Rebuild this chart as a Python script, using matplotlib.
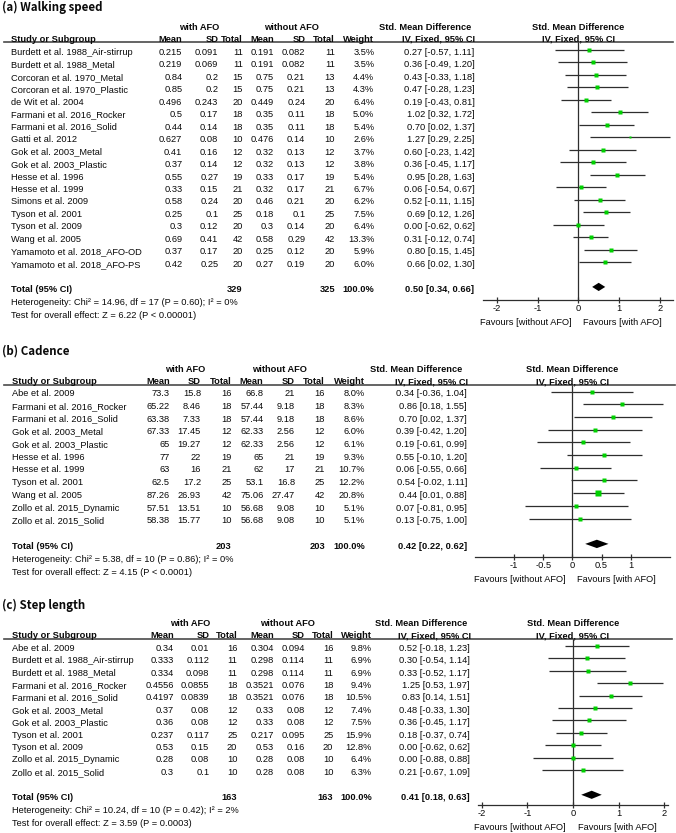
import matplotlib
matplotlib.use("Agg")
import matplotlib.pyplot as plt
from matplotlib.lines import Line2D
import numpy as np

plt.rcParams['font.family'] = ['Liberation Sans', 'DejaVu Sans']
plt.rcParams['axes.unicode_minus'] = False

W, H = 676, 833

# ---------------- data: (a) Walking speed ----------------
names_a = ["Burdett et al. 1988_Air-stirrup", "Burdett et al. 1988_Metal", "Corcoran et al. 1970_Metal",
           "Corcoran et al. 1970_Plastic", "de Wit et al. 2004", "Farmani et al. 2016_Rocker",
           "Farmani et al. 2016_Solid", "Gatti et al. 2012", "Gok et al. 2003_Metal", "Gok et al. 2003_Plastic",
           "Hesse et al. 1996", "Hesse et al. 1999", "Simons et al. 2009", "Tyson et al. 2001",
           "Tyson et al. 2009", "Wang et al. 2005", "Yamamoto et al. 2018_AFO-OD", "Yamamoto et al. 2018_AFO-PS"]
mean1_a = [0.215, 0.219, 0.84, 0.85, 0.496, 0.5, 0.44, 0.627, 0.41, 0.37, 0.55, 0.33, 0.58, 0.25, 0.3, 0.69, 0.37, 0.42]
sd1_a = [0.091, 0.069, 0.2, 0.2, 0.243, 0.17, 0.14, 0.08, 0.16, 0.14, 0.27, 0.15, 0.24, 0.1, 0.12, 0.41, 0.17, 0.25]
n1_a = [11, 11, 15, 15, 20, 18, 18, 10, 12, 12, 19, 21, 20, 25, 20, 42, 20, 20]
mean2_a = [0.191, 0.191, 0.75, 0.75, 0.449, 0.35, 0.35, 0.476, 0.32, 0.32, 0.33, 0.32, 0.46, 0.18, 0.3, 0.58, 0.25, 0.27]
sd2_a = [0.082, 0.082, 0.21, 0.21, 0.24, 0.11, 0.11, 0.14, 0.13, 0.13, 0.17, 0.17, 0.21, 0.1, 0.14, 0.29, 0.12, 0.19]
n2_a = [11, 11, 13, 13, 20, 18, 18, 10, 12, 12, 19, 21, 20, 25, 20, 42, 20, 20]
weight_a = [3.5, 3.5, 4.4, 4.3, 6.4, 5.0, 5.4, 2.6, 3.7, 3.8, 5.4, 6.7, 6.2, 7.5, 6.4, 13.3, 5.9, 6.0]
smd_a = [0.27, 0.36, 0.43, 0.47, 0.19, 1.02, 0.70, 1.27, 0.60, 0.36, 0.95, 0.06, 0.52, 0.69, 0.00, 0.31, 0.80, 0.66]
lo_a = [-0.57, -0.49, -0.33, -0.28, -0.43, 0.32, 0.02, 0.29, -0.23, -0.45, 0.28, -0.54, -0.11, 0.12, -0.62, -0.12, 0.15, 0.02]
hi_a = [1.11, 1.20, 1.18, 1.23, 0.81, 1.72, 1.37, 2.25, 1.42, 1.17, 1.63, 0.67, 1.15, 1.26, 0.62, 0.74, 1.45, 1.30]
total_a = [329, 325, 100.0, 0.50, 0.34, 0.66]
het_a = "Heterogeneity: Chi² = 14.96, df = 17 (P = 0.60); I² = 0%"
test_a = "Test for overall effect: Z = 6.22 (P < 0.00001)"
ticks_a = [-2, -1, 0, 1, 2]
ticklabels_a = ["-2", "-1", "0", "1", "2"]

# ---------------- data: (b) Cadence ----------------
names_b = ["Abe et al. 2009", "Farmani et al. 2016_Rocker", "Farmani et al. 2016_Solid", "Gok et al. 2003_Metal",
           "Gok et al. 2003_Plastic", "Hesse et al. 1996", "Hesse et al. 1999", "Tyson et al. 2001",
           "Wang et al. 2005", "Zollo et al. 2015_Dynamic", "Zollo et al. 2015_Solid"]
mean1_b = [73.3, 65.22, 63.38, 67.33, 65, 77, 63, 62.5, 87.26, 57.51, 58.38]
sd1_b = [15.8, 8.46, 7.33, 17.45, 19.27, 22, 16, 17.2, 26.93, 13.51, 15.77]
n1_b = [16, 18, 18, 12, 12, 19, 21, 25, 42, 10, 10]
mean2_b = [66.8, 57.44, 57.44, 62.33, 62.33, 65, 62, 53.1, 75.06, 56.68, 56.68]
sd2_b = [21, 9.18, 9.18, 2.56, 2.56, 21, 17, 16.8, 27.47, 9.08, 9.08]
n2_b = [16, 18, 18, 12, 12, 19, 21, 25, 42, 10, 10]
weight_b = [8.0, 8.3, 8.6, 6.0, 6.1, 9.3, 10.7, 12.2, 20.8, 5.1, 5.1]
smd_b = [0.34, 0.86, 0.70, 0.39, 0.19, 0.55, 0.06, 0.54, 0.44, 0.07, 0.13]
lo_b = [-0.36, 0.18, 0.02, -0.42, -0.61, -0.10, -0.55, -0.02, 0.01, -0.81, -0.75]
hi_b = [1.04, 1.55, 1.37, 1.20, 0.99, 1.20, 0.66, 1.11, 0.88, 0.95, 1.00]
total_b = [203, 203, 100.0, 0.42, 0.22, 0.62]
het_b = "Heterogeneity: Chi² = 5.38, df = 10 (P = 0.86); I² = 0%"
test_b = "Test for overall effect: Z = 4.15 (P < 0.0001)"
ticks_b = [-1, -0.5, 0, 0.5, 1]
ticklabels_b = ["-1", "-0.5", "0", "0.5", "1"]

# ---------------- data: (c) Step length ----------------
names_c = ["Abe et al. 2009", "Burdett et al. 1988_Air-stirrup", "Burdett et al. 1988_Metal",
           "Farmani et al. 2016_Rocker", "Farmani et al. 2016_Solid", "Gok et al. 2003_Metal",
           "Gok et al. 2003_Plastic", "Tyson et al. 2001", "Tyson et al. 2009", "Zollo et al. 2015_Dynamic",
           "Zollo et al. 2015_Solid"]
mean1_c = [0.34, 0.333, 0.334, 0.4556, 0.4197, 0.37, 0.36, 0.237, 0.53, 0.28, 0.3]
sd1_c = [0.01, 0.112, 0.098, 0.0855, 0.0839, 0.08, 0.08, 0.117, 0.15, 0.08, 0.1]
n1_c = [16, 11, 11, 18, 18, 12, 12, 25, 20, 10, 10]
mean2_c = [0.304, 0.298, 0.298, 0.3521, 0.3521, 0.33, 0.33, 0.217, 0.53, 0.28, 0.28]
sd2_c = [0.094, 0.114, 0.114, 0.076, 0.076, 0.08, 0.08, 0.095, 0.16, 0.08, 0.08]
n2_c = [16, 11, 11, 18, 18, 12, 12, 25, 20, 10, 10]
weight_c = [9.8, 6.9, 6.9, 9.4, 10.5, 7.4, 7.5, 15.9, 12.8, 6.4, 6.3]
smd_c = [0.52, 0.30, 0.33, 1.25, 0.83, 0.48, 0.36, 0.18, 0.00, 0.00, 0.21]
lo_c = [-0.18, -0.54, -0.52, 0.53, 0.14, -0.33, -0.45, -0.37, -0.62, -0.88, -0.67]
hi_c = [1.23, 1.14, 1.17, 1.97, 1.51, 1.30, 1.17, 0.74, 0.62, 0.88, 1.09]
total_c = [163, 163, 100.0, 0.41, 0.18, 0.63]
het_c = "Heterogeneity: Chi² = 10.24, df = 10 (P = 0.42); I² = 2%"
test_c = "Test for overall effect: Z = 3.59 (P = 0.0003)"
ticks_c = [-2, -1, 0, 1, 2]
ticklabels_c = ["-2", "-1", "0", "1", "2"]

# ---------------- layout (pixels) ----------------
FS = 6.7
LINE_COL = '#2e2e2e'
SQ_COL = '#00d000'
TXT_COL = '#0a0a0a'

fig = plt.figure(figsize=(W / 100, H / 100), dpi=100)


def T(x, y, s, ha='left', bold=False, size=FS, family=None):
    kw = {}
    if family is not None:
        kw['family'] = family
    fig.text(x / W, 1 - y / H, s, ha=ha, va='baseline', fontsize=size,
             fontweight='bold' if bold else 'normal', color=TXT_COL, **kw)


def fmt(v):
    return "%g" % v


def panel(title, names, m1, s1, n1, m2, s2, n2, wts, smd, lo, hi, tot, het, test, ticks, ticklabels, L):
    n = len(names)
    T(2, L['title_y'], title, bold=True, size=8.3, family=['Noto Sans CJK KR', 'DejaVu Sans'])
    ly = L['line_y']
    # group headers
    T(L['g1'], ly - 12.5, "with AFO", ha='center', bold=True)
    T(L['g2'], ly - 12.5, "without AFO", ha='center', bold=True)
    T(L['smdh'], ly - 12.5, "Std. Mean Difference", ha='center', bold=True)
    T(L['zero'], ly - 12.5, "Std. Mean Difference", ha='center', bold=True)
    # column headers
    hb = ly - 0.5
    T(L['name_x'], hb, "Study or Subgroup", bold=True)
    for x, s in zip(L['cols'], ["Mean", "SD", "Total", "Mean", "SD", "Total"]):
        T(x, hb, s, ha='right', bold=True)
    T(L['w_x'], hb, "Weight", ha='right', bold=True)
    T(L['ci_x'] + 1, hb, "IV, Fixed, 95% CI", ha='right', bold=True)
    T(L['zero'], hb, "IV, Fixed, 95% CI", ha='center', bold=True)
    fig.add_artist(Line2D([4 / W, L['line_x1'] / W], [1 - ly / H] * 2, color='#4a4a4a', lw=1.2))

    r0, sp = L['row0'], L['sp']
    for i in range(n):
        yb = r0 + i * sp + 4.8
        T(L['name_x'], yb, names[i])
        vals = [fmt(m1[i]), fmt(s1[i]), str(n1[i]), fmt(m2[i]), fmt(s2[i]), str(n2[i])]
        for x, s in zip(L['cols'], vals):
            T(x, yb, s, ha='right')
        T(L['w_x'], yb, "%.1f%%" % wts[i], ha='right')
        T(L['ci_x'], yb, "%.2f [%.2f, %.2f]" % (smd[i], lo[i], hi[i]), ha='right')
    ty = r0 + (n + 1) * sp + 4.8
    T(L['name_x'], ty, "Total (95% CI)", bold=True)
    T(L['cols'][2], ty, str(tot[0]), ha='right', bold=True)
    T(L['cols'][5], ty, str(tot[1]), ha='right', bold=True)
    T(L['w_x'], ty, "%.1f%%" % tot[2], ha='right', bold=True)
    T(L['ci_x'], ty, "%.2f [%.2f, %.2f]" % (tot[3], tot[4], tot[5]), ha='right', bold=True)
    T(L['name_x'], ty + 13.5, het)
    T(L['name_x'], ty + 26, test)

    # forest axes
    ay = L['axis_y']
    ax = fig.add_axes([L['fx0'] / W, 1 - ay / H, (L['fx1'] - L['fx0']) / W, (ay - ly) / H])
    ax.patch.set_alpha(0)
    ax.set_xlim((L['fx0'] - L['zero']) / L['unit'], (L['fx1'] - L['zero']) / L['unit'])
    ax.set_ylim((ay - r0) / sp, (ly - r0) / sp)
    for sname in ['top', 'left', 'right']:
        ax.spines[sname].set_visible(False)
    ax.spines['bottom'].set_color(LINE_COL)
    ax.spines['bottom'].set_linewidth(0.9)
    ax.axvline(0, color=LINE_COL, lw=0.9, zorder=1)
    ys = np.arange(n)
    ax.hlines(ys, lo, hi, color=LINE_COL, lw=0.9, zorder=2)
    for i in range(n):
        ax.plot(smd[i], ys[i], 's', color=SQ_COL, mec='none', ms=1.0 + 0.65 * np.sqrt(wts[i]), zorder=3)
    yt = n + 1
    hh = 0.33
    ax.fill([tot[4], tot[3], tot[5], tot[3]], [yt, yt - hh, yt, yt + hh], color='black', zorder=3, lw=0)
    ax.set_yticks([])
    ax.set_xticks(ticks)
    ax.set_xticklabels(ticklabels)
    ax.tick_params(axis='x', direction='inout', length=4, width=0.9, color=LINE_COL, pad=1.2, labelsize=FS,
                   labelcolor=TXT_COL)
    ax.annotate("Favours [without AFO]", xy=(0, 0), xycoords=('data', 'axes fraction'),
                xytext=(-5, -18.3), textcoords='offset points', ha='right', va='baseline', fontsize=FS,
                color=TXT_COL)
    ax.annotate("Favours [with AFO]", xy=(0, 0), xycoords=('data', 'axes fraction'),
                xytext=(3.6, -18.3), textcoords='offset points', ha='left', va='baseline', fontsize=FS,
                color=TXT_COL)


LA = dict(title_y=10.5, line_y=42.3, row0=50, sp=12.47, axis_y=300, name_x=11,
          cols=[182.3, 218.3, 242.7, 274, 305.3, 335], w_x=374.3, ci_x=474.5, g1=199, g2=291,
          smdh=425, fx0=483.3, fx1=673, zero=578.3, unit=40.8, line_x1=673)
LB = dict(title_y=355, line_y=385, row0=391.5, sp=12.7, axis_y=556.7, name_x=12,
          cols=[170, 201, 231.7, 263.3, 295, 325], w_x=365, ci_x=467, g1=185, g2=279.5,
          smdh=415.8, fx0=475, fx1=670, zero=572.4, unit=58.2, line_x1=675)
LC = dict(title_y=608.5, line_y=639, row0=646, sp=12.4, axis_y=805, name_x=12,
          cols=[174, 209.3, 237.3, 274, 305, 333.3], w_x=371.7, ci_x=470, g1=189.7, g2=287,
          smdh=421, fx0=478, fx1=668, zero=573, unit=45.6, line_x1=672)

panel("(a) Walking speed", names_a, mean1_a, sd1_a, n1_a, mean2_a, sd2_a, n2_a, weight_a, smd_a, lo_a, hi_a,
      total_a, het_a, test_a, ticks_a, ticklabels_a, LA)
panel("(b) Cadence", names_b, mean1_b, sd1_b, n1_b, mean2_b, sd2_b, n2_b, weight_b, smd_b, lo_b, hi_b,
      total_b, het_b, test_b, ticks_b, ticklabels_b, LB)
panel("(c) Step length", names_c, mean1_c, sd1_c, n1_c, mean2_c, sd2_c, n2_c, weight_c, smd_c, lo_c, hi_c,
      total_c, het_c, test_c, ticks_c, ticklabels_c, LC)

fig.savefig("out.png", dpi=100, facecolor='white')
